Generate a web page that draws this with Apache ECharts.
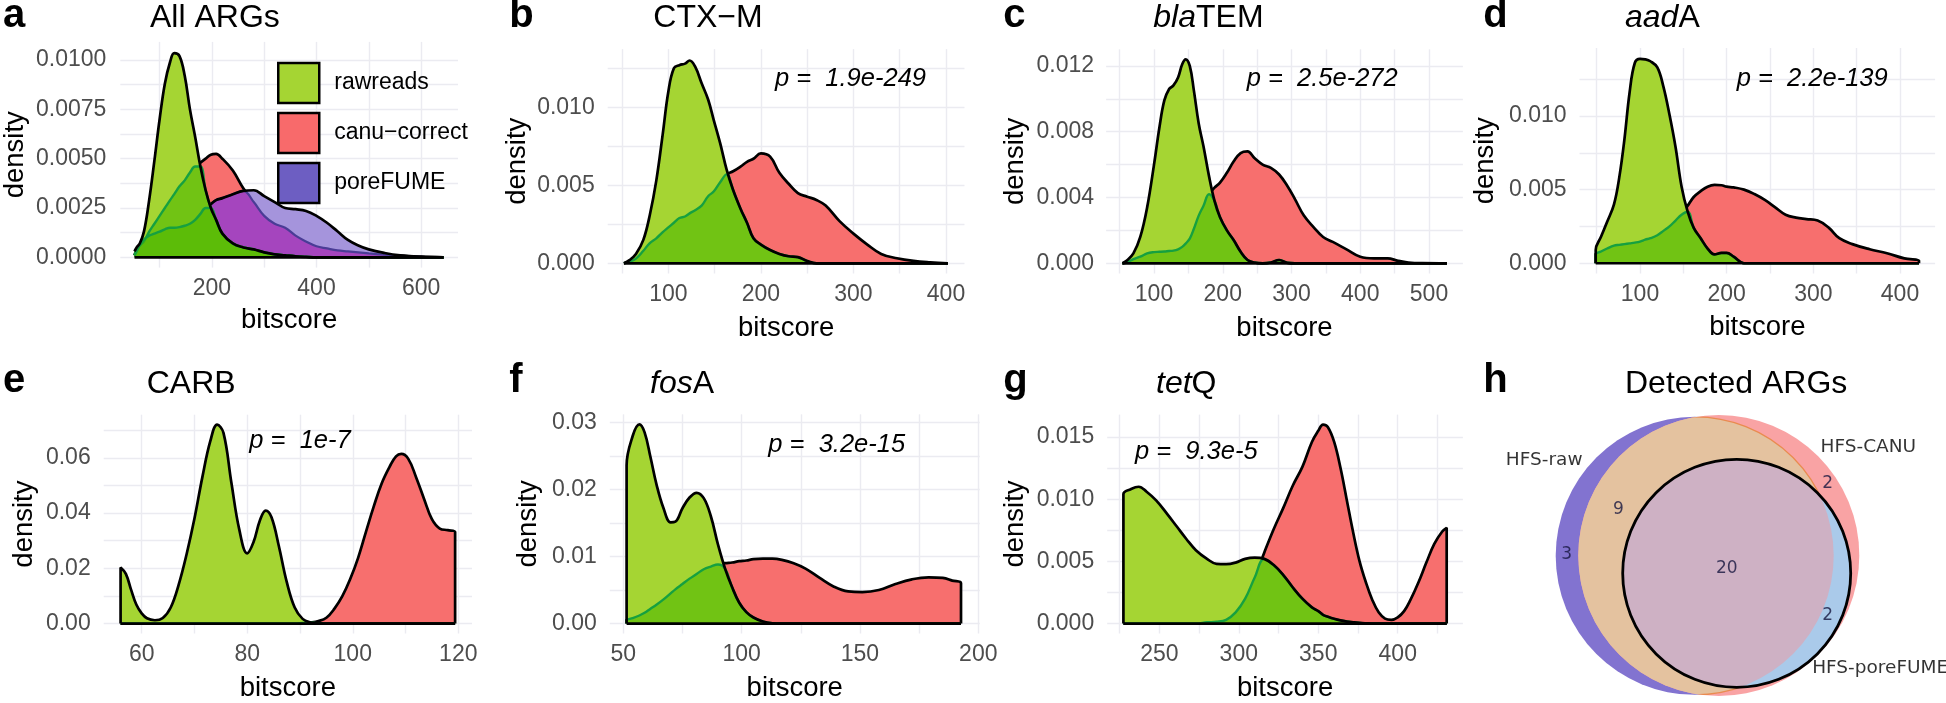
<!DOCTYPE html>
<html><head><meta charset="utf-8">
<script src="https://cdn.jsdelivr.net/npm/echarts@6/dist/echarts.min.js"></script>
<style>html,body{margin:0;padding:0;background:#fff}#c{width:1946px;height:703px}</style>
</head><body><div id="c"></div><script>
// ================= DATA =================
// a: All ARGs
const aX    = [52,56,62,70,80,90,100,110,120,128,138,148,158,168,178,188,198,208,220,240,260,280,300,320,340,360,380,400,420,440,460,480,500,530,560,600,643];
const aRaw  = [0.0003,0.0005,0.0007,0.0013,0.0029,0.0049,0.0070,0.0088,0.0099,0.01035,0.0102,0.0092,0.0075,0.0061,0.0046,0.0034,0.0025,0.0019,0.0012,0.0007,0.0005,0.0004,0.00025,0.00015,0.0001,0.00005,0.00002,0,0,0,0,0,0,0,0,0,0];
const aCanu = [0.0001,0.0004,0.0006,0.0008,0.0013,0.0017,0.0021,0.0025,0.0029,0.0032,0.0036,0.0039,0.0043,0.0046,0.0048,0.0050,0.0052,0.00524,0.0050,0.0044,0.0035,0.0028,0.0021,0.0017,0.0015,0.0011,0.0008,0.00056,0.00045,0.00035,0.0003,0.00025,0.0002,0.00013,0.00007,0.00002,0];
const aPore = [0.0001,0.0003,0.0006,0.0009,0.0011,0.0012,0.0013,0.00142,0.0015,0.0015,0.00153,0.0016,0.0017,0.0019,0.0022,0.0025,0.0027,0.0029,0.0030,0.0032,0.00337,0.0034,0.0031,0.0028,0.0025,0.00244,0.00235,0.0021,0.00175,0.00132,0.00088,0.0006,0.0004,0.00022,0.0001,0.00003,0];
// b: CTX-M
const bX    = [52,58,65,73,80,87,94,100,106,112,118,123,129,136,143,149,156,163,170,178,185,192,200,210,220,230,240,250,260,270,285,300,315,330,347,365,383,402];
const bRaw  = [0,0.0002,0.0006,0.0015,0.0031,0.0053,0.0083,0.0110,0.0125,0.0127,0.0128,0.0130,0.0126,0.01154,0.0105,0.0092,0.0077,0.0060,0.0047,0.0035,0.0026,0.0016,0.0012,0.00085,0.0006,0.00045,0.0004,0.00015,0,0,0,0,0,0,0,0,0,0];
const bCanu = [0,0.0001,0.0003,0.0008,0.0013,0.0016,0.0020,0.0023,0.0026,0.0029,0.0030,0.0032,0.0034,0.0037,0.0043,0.0046,0.0052,0.0057,0.0059,0.0062,0.0065,0.0067,0.00705,0.00684,0.0058,0.0051,0.0045,0.00427,0.00406,0.0037,0.0027,0.0019,0.0012,0.0006,0.00032,0.00015,0.00006,0];
// c: blaTEM
const cX    = [54,60,70,80,90,100,108,115,122,128,135,141,146,152,158,165,172,180,188,196,206,216,226,236,246,258,270,282,294,305,318,332,346,360,380,400,420,440,455,470,490,526];
const cRaw  = [0,0.00015,0.0006,0.0016,0.0034,0.0060,0.0083,0.0099,0.0106,0.0108,0.0113,0.0121,0.0124,0.0120,0.0105,0.0085,0.0071,0.0053,0.0038,0.0028,0.0020,0.0014,0.0007,0.0002,0.00005,0,0.00005,0.0002,0.00003,0,0,0,0,0,0,0,0,0,0,0,0,0];
const cCanu = [0,0.00005,0.00025,0.0004,0.0006,0.00068,0.0007,0.00072,0.00075,0.00077,0.00085,0.0010,0.0012,0.0015,0.0021,0.0029,0.0035,0.0042,0.0046,0.0049,0.0055,0.0062,0.0067,0.0068,0.0064,0.0060,0.0058,0.0054,0.0047,0.0039,0.0029,0.0022,0.0016,0.0013,0.00085,0.0004,0.0003,0.0003,0.00015,0.00005,0.00001,0];
// d: aadA
const dX    = [48.9,48.9,55,62,70,76,82,88,94,100,106,112,120,127,134,141,148,155,162,170,178,186,194,200,208,220,232,244,256,268,280,292,305,318,330,345,365,385,405,421.9,421.9];
const dRaw  = [0,0.0009,0.0018,0.0028,0.0040,0.0058,0.0084,0.0116,0.0136,0.01388,0.01385,0.01372,0.0133,0.0120,0.0101,0.0079,0.0052,0.0035,0.0024,0.0017,0.0010,0.0006,0.0007,0.0007,0.00045,0,0,0,0,0,0,0,0,0,0,0,0,0,0,0,0];
const dCanu = [0,0.0006,0.0008,0.0010,0.0012,0.00125,0.0013,0.00135,0.0014,0.00147,0.0016,0.0017,0.0019,0.0022,0.0025,0.0029,0.0033,0.0039,0.0045,0.0049,0.0052,0.00532,0.0053,0.0052,0.00515,0.0050,0.0047,0.0043,0.0038,0.0033,0.0031,0.0030,0.0029,0.0024,0.0017,0.0013,0.00095,0.00068,0.00033,0.00018,0];
// e: CARB
const eX    = [56,56,57,58,59,60,61,62.5,64,65.5,67,68.5,70,71.5,73,74.3,75.5,77,78.5,80,81.2,82.4,83.5,84.6,86,87.5,89,90.5,92,93.5,95,96.5,98,99.5,101,102.5,104,105.5,107,108.2,109.2,110.5,112,113.5,115,116.5,118,119.4,119.4];
const eRaw  = [0,0.0203,0.018,0.0122,0.0068,0.0037,0.0019,0.0012,0.002,0.0058,0.014,0.025,0.038,0.053,0.066,0.072,0.069,0.051,0.034,0.0254,0.0295,0.0373,0.0409,0.0385,0.028,0.015,0.0058,0.0017,0.0004,0,0,0,0,0,0,0,0,0,0,0,0,0,0,0,0,0,0,0,0];
const eCanu = [0,0,0,0,0,0,0,0,0,0,0,0,0,0,0,0,0,0,0,0,0,0,0,0,0,0,0,0.0002,0.0004,0.0009,0.0021,0.0053,0.0098,0.016,0.0237,0.0332,0.0425,0.0508,0.0568,0.0605,0.0614,0.0597,0.053,0.0452,0.0378,0.0344,0.0338,0.0331,0];
// f: fosA
const fX    = [51.4,51.4,54,56.8,59,61.5,64,67,70,72,75,78,81,84,87,90,93,96,99,102,105,109,113,117,122,127,133,139,145,151,158,165,172,179,185,189,192.7,192.7];
const fRaw  = [0,0.0236,0.028,0.0297,0.0285,0.0248,0.0208,0.0172,0.0151,0.0152,0.0172,0.0188,0.0195,0.0187,0.016,0.0118,0.0082,0.0054,0.0031,0.0017,0.0009,0.0003,0.00005,0,0,0,0,0,0,0,0,0,0,0,0,0,0,0];
const fCanu = [0,0.0005,0.0008,0.0012,0.0016,0.0022,0.0028,0.0036,0.0045,0.0051,0.0059,0.0067,0.0074,0.0081,0.0085,0.0088,0.009,0.0091,0.0093,0.0094,0.0096,0.00967,0.00967,0.0095,0.009,0.0082,0.0068,0.0055,0.0048,0.0047,0.005,0.0059,0.0066,0.0069,0.0068,0.0064,0.006,0];
// g: tetQ
const gX    = [227.4,227.4,232,237,242,248,255,261,267,273,280,286,292,298,304,310,316,322,328,334,340,346,350,353,356,360,364,368,372,376,380,384,388,392,396,400,404,408,413,418,423,428,430.8,430.8];
const gRaw  = [0,0.0104,0.0108,0.011,0.0106,0.0099,0.0088,0.0078,0.0068,0.0059,0.0052,0.0048,0.00477,0.0049,0.0052,0.0053,0.0052,0.0047,0.0039,0.0029,0.002,0.0013,0.001,0.0007,0.00055,0.00038,0.00025,0.00016,0.0001,0.00005,0.00002,0,0,0,0,0,0,0,0,0,0,0,0,0];
const gCanu = [0,0,0,0,0,0,0,0,0,0,0.0001,0.00014,0.0003,0.0009,0.002,0.0037,0.0057,0.0076,0.0093,0.0111,0.0126,0.0146,0.0155,0.016,0.0158,0.0146,0.0125,0.0099,0.0073,0.005,0.0033,0.0019,0.0009,0.0004,0.0003,0.0005,0.001,0.0019,0.0033,0.0049,0.0064,0.0074,0.0077,0];

// tick values (major labelled, minor = extra grid lines)
const aXMaj=[200,400,600], aXMin=[100,300,500], aYMaj=[0,0.0025,0.005,0.0075,0.01], aYMin=[0.00125,0.00375,0.00625,0.00875];
const bXMaj=[100,200,300,400], bXMin=[50,150,250,350], bYMaj=[0,0.005,0.01], bYMin=[0.0025,0.0075,0.0125];
const cXMaj=[100,200,300,400,500], cXMin=[50,150,250,350,450], cYMaj=[0,0.004,0.008,0.012], cYMin=[0.002,0.006,0.01];
const dXMaj=[100,200,300,400], dXMin=[50,150,250,350], dYMaj=[0,0.005,0.01], dYMin=[0.0025,0.0075,0.0125];
const eXMaj=[60,80,100,120], eXMin=[70,90,110], eYMaj=[0,0.02,0.04,0.06], eYMin=[0.01,0.03,0.05,0.07];
const fXMaj=[50,100,150,200], fXMin=[75,125,175], fYMaj=[0,0.01,0.02,0.03], fYMin=[0.005,0.015,0.025];
const gXMaj=[250,300,350,400], gXMin=[225,275,325,375,425], gYMaj=[0,0.005,0.01,0.015], gYMin=[0.0025,0.0075,0.0125];

const legendNames = ['rawreads','canu\u2212correct','poreFUME'];
const pValues = ['p =  1.9e-249','p =  2.5e-272','p =  2.2e-139','p =  1e-7','p =  3.2e-15','p =  9.3e-5'];

// Venn (h): circles and region counts
const vennNames = ['HFS-raw','HFS-CANU','HFS-poreFUME'];
const vennCx = [214.7, 238.8, 256.7];
const vennCy = [155.8, 155.5, 173.3];
const vennR  = [139, 140.5, 114];
const vennNameX = [64.2, 388.3, 400.2];
const vennNameY = [60, 47.5, 268.3];
const vennCounts = ['3','9','20','2','2'];
const vennCountX = [86.7, 138.3, 246.7, 347.7, 347.7];
const vennCountY = [155, 110, 168.3, 84, 216];

// ================= STYLE / LAYOUT =================
const FONT = '"Liberation Sans", Arial, Helvetica, sans-serif';
const GREEN='#A5D533', RED='#F76F6E', PURP='#A594DC', MAGENTA='#A545BE', OVER='rgba(78,184,0,0.6)', TEAL='#16A040', NAVY='#4A3C96', GRIDC='#EBEBF1';
const panels = [
  {xs:aX, raw:aRaw, canu:aCanu, pore:aPore, xMaj:aXMaj, xMin:aXMin, yMaj:aYMaj, yMin:aYMin, xr:[24.8,670.6], yr:[-0.000522,0.01092], yDec:4, box:[116.7,41.9,341.3,225.7], yGap:91.3, xGap:39, yMargin:14},
  {xs:bX, raw:bRaw, canu:bCanu, xMaj:bXMaj, xMin:bXMin, yMaj:bYMaj, yMin:bYMin, xr:[34.5,420], yr:[-0.000654,0.01373], yDec:3, box:[607.7,49.1,356.8,224.4], yGap:76.5, xGap:41, yMargin:13},
  {xs:cX, raw:cRaw, canu:cCanu, xMaj:cXMaj, xMin:cXMin, yMaj:cYMaj, yMin:cYMin, xr:[30.3,549.3], yr:[-0.00062,0.01301], yDec:3, box:[1106.1,49.3,356.8,224.2], yGap:76.5, xGap:41, yMargin:12},
  {xs:dX, raw:dRaw, canu:dCanu, xMaj:dXMaj, xMin:dXMin, yMaj:dYMaj, yMin:dYMin, xr:[30.2,440.5], yr:[-0.000696,0.01462], yDec:3, box:[1579.5,48,355.6,225.5], yGap:80, xGap:40, yMargin:13},
  {xs:eX, raw:eRaw, canu:eCanu, xMaj:eXMaj, xMin:eXMin, yMaj:eYMaj, yMin:eYMin, xr:[52.8,122.6], yr:[-0.0036,0.0756], yDec:2, box:[103.7,414.7,368.3,224.8], yGap:65, xGap:40.5, yMargin:13},
  {xs:fX, raw:fRaw, canu:fCanu, xMaj:fXMaj, xMin:fXMin, yMaj:fYMaj, yMin:fYMin, xr:[44.3,200.6], yr:[-0.00148,0.0312], yDec:2, box:[609.8,414.3,369.9,225.2], yGap:67, xGap:40.5, yMargin:13},
  {xs:gX, raw:gRaw, canu:gCanu, xMaj:gXMaj, xMin:gXMin, yMaj:gYMaj, yMin:gYMin, xr:[217.2,441], yr:[-0.0008,0.0168], yDec:3, box:[1107.2,414.6,355.7,224.9], yGap:77.7, xGap:40.5, yMargin:13}
];

const pairs = (xs, ys) => xs.map((x, i) => [x, ys[i]]);
const minArr = (a, b) => a.map((v, i) => Math.min(v, b[i]));
function L(i, data, o) {
  return Object.assign({type:'line', xAxisIndex:i, yAxisIndex:i, data, symbol:'none', smooth:0.4,
    silent:true, animation:false, clip:true}, o);
}
const BLK = {color:'#000', width:2.7};
const NOLINE = {width:0, opacity:0};

const grids=[], xAxes=[], yAxes=[], series=[];
panels.forEach((p, i) => {
  grids.push({left:p.box[0], top:p.box[1], width:p.box[2], height:p.box[3]});
  xAxes.push({type:'value', gridIndex:i, min:p.xr[0], max:p.xr[1], name:'bitscore', nameLocation:'middle', nameGap:p.xGap,
    nameTextStyle:{fontSize:27.5, color:'#000', fontFamily:FONT},
    axisLine:{show:false}, axisTick:{show:false, customValues:p.xMaj.concat(p.xMin)},
    axisLabel:{customValues:p.xMaj, fontSize:23, color:'#4D4D4D', margin:10, fontFamily:FONT, formatter:v=>String(v)},
    splitLine:{show:true, lineStyle:{color:GRIDC, width:1.4}}});
  yAxes.push({type:'value', gridIndex:i, min:p.yr[0], max:p.yr[1], name:'density', nameLocation:'middle', nameGap:p.yGap, nameRotate:90,
    nameTextStyle:{fontSize:27.5, color:'#000', fontFamily:FONT},
    axisLine:{show:false}, axisTick:{show:false, customValues:p.yMaj.concat(p.yMin)},
    axisLabel:{customValues:p.yMaj, fontSize:23, color:'#4D4D4D', margin:p.yMargin, fontFamily:FONT, formatter:v=>v.toFixed(p.yDec)},
    splitLine:{show:true, lineStyle:{color:GRIDC, width:1.4}}});
  let z = 3;
  series.push(L(i, pairs(p.xs, p.canu), {name:legendNames[1], z:z++, lineStyle:BLK, areaStyle:{color:RED, opacity:1}, itemStyle:{color:RED}}));
  if (p.pore) {
    series.push(L(i, pairs(p.xs, p.pore), {name:legendNames[2], z:z++, lineStyle:NOLINE, areaStyle:{color:PURP, opacity:1}, itemStyle:{color:PURP}}));
    series.push(L(i, pairs(p.xs, minArr(p.pore, p.canu)), {z:z++, lineStyle:{color:NAVY, width:2.2}, areaStyle:{color:MAGENTA, opacity:1}}));
    series.push(L(i, pairs(p.xs, p.pore), {z:z++, lineStyle:BLK}));
  }
  series.push(L(i, pairs(p.xs, p.raw), {name:legendNames[0], z:z++, lineStyle:NOLINE, areaStyle:{color:GREEN, opacity:1}, itemStyle:{color:GREEN}}));
  series.push(L(i, pairs(p.xs, minArr(p.raw, p.canu)), {z:z++, lineStyle:{color:TEAL, width:2.4}, areaStyle:{color:OVER, opacity:1}}));
  if (p.pore) series.push(L(i, pairs(p.xs, minArr(p.raw, p.pore)), {z:z++, lineStyle:{color:TEAL, width:2.4}, areaStyle:{color:OVER, opacity:1}}));
  series.push(L(i, pairs(p.xs, p.raw), {z:z++, lineStyle:BLK}));
  series.push(L(i, [[p.xs[0], 0], [p.xs[p.xs.length - 1], 0]], {z:z++, smooth:false, lineStyle:BLK}));
});

// Venn grid (index 7)
const VI = panels.length;
grids.push({left:1480, top:400, width:466, height:303});
xAxes.push({type:'value', gridIndex:VI, min:0, max:466, show:false, splitLine:{show:false}});
yAxes.push({type:'value', gridIndex:VI, min:0, max:303, inverse:true, show:false, splitLine:{show:false}});
series.push({
  type:'custom', coordinateSystem:'cartesian2d', xAxisIndex:VI, yAxisIndex:VI, z:30, silent:true, animation:false, clip:false,
  data: vennCx.map((x, k) => [x, vennCy[k], vennR[k]]),
  renderItem: function (params, api) {
    const circ = j => { const c = api.coord([vennCx[j], vennCy[j]]); return {cx:c[0], cy:c[1], r:api.size([vennR[j], 0])[0]}; };
    const k = params.dataIndex, me = circ(k);
    if (k === 0) return {type:'circle', shape:me, style:{fill:'#8273D0'}};
    if (k === 1) return {type:'group', children:[
      {type:'circle', shape:me, style:{fill:'#F9A3A4'}},
      {type:'circle', shape:me, style:{fill:'#E4C29F'}, clipPath:{type:'circle', shape:circ(0)}},
      {type:'circle', shape:circ(0), style:{fill:null, stroke:'#E98B50', lineWidth:1.3}, clipPath:{type:'circle', shape:me}}
    ]};
    return {type:'group', children:[
      {type:'circle', shape:me, style:{fill:'#AACAEA'}},
      {type:'circle', shape:me, style:{fill:'#CEB1C4'}, clipPath:{type:'circle', shape:circ(0)}},
      {type:'circle', shape:me, style:{fill:null, stroke:'#000', lineWidth:2.8}}
    ]};
  }
});
series.push({type:'scatter', xAxisIndex:VI, yAxisIndex:VI, symbolSize:0, silent:true, animation:false, z:31, clip:false,
  data: vennNames.map((n, k) => ({value:[vennNameX[k], vennNameY[k]], name:n})),
  label:{show:true, position:'inside', formatter:'{b}', fontFamily:'"DejaVu Sans", sans-serif', fontSize:18.5, color:'#000'}});
series.push({type:'scatter', xAxisIndex:VI, yAxisIndex:VI, symbolSize:0, silent:true, animation:false, z:31, clip:false,
  data: vennCounts.map((n, k) => ({value:[vennCountX[k], vennCountY[k]], name:n})),
  label:{show:true, position:'inside', formatter:'{b}', fontFamily:'"DejaVu Sans", sans-serif', fontSize:17, color:'#15153F'}});

// Text: panel letters, titles, p-values
const gtxt = [];
const letter = (t, x, y) => gtxt.push({type:'text', x, y, silent:true, z:50, style:{text:t, font:'bold 40px ' + FONT, fill:'#000', align:'left', verticalAlign:'middle'}});
[['a',3,16],['b',509.3,16],['c',1003.3,16],['d',1483.3,16],['e',3,381],['f',509.3,381],['g',1003.3,381],['h',1483.3,381]].forEach(a => letter(...a));
const RICH = {i:{fontStyle:'italic', fontSize:32, fontFamily:FONT, fill:'#000'}, n:{fontSize:32, fontFamily:FONT, fill:'#000'}};
const title = (t, x, y) => gtxt.push({type:'text', x, y, silent:true, z:50, style:{text:t, rich:RICH, font:'32px ' + FONT, fill:'#000', align:'left', verticalAlign:'middle'}});
[['{n|All ARGs}',150,18.5],['{n|CTX\u2212M}',653.3,18.5],['{i|bla}{n|TEM}',1153.3,18.5],['{i|aad}{n|A}',1625,18.5],
 ['{n|CARB}',146.7,384],['{i|fos}{n|A}',650,384],['{i|tet}{n|Q}',1156,384],['{n|Detected ARGs}',1625,384]].forEach(a => title(...a));
const pPos = [[775,78.7],[1246.7,78.7],[1736.7,79],[249.3,440.8],[768.3,445],[1135,451.7]];
pValues.forEach((t, k) => gtxt.push({type:'text', x:pPos[k][0], y:pPos[k][1], silent:true, z:50,
  style:{text:t, font:'italic 25.5px ' + FONT, fill:'#000', align:'left', verticalAlign:'middle'}}));

const chart = echarts.init(document.getElementById('c'), null, {renderer:'canvas'});
chart.setOption({
  animation:false, backgroundColor:'#fff', textStyle:{fontFamily:FONT},
  grid:grids, xAxis:xAxes, yAxis:yAxes, series,
  legend:{show:true, selectedMode:false, orient:'vertical', left:277, top:61.7, padding:0, icon:'rect', itemWidth:41, itemHeight:40, itemGap:7.5,
    textStyle:{fontSize:23, color:'#000', fontFamily:FONT, padding:[0,0,0,10]},
    data:[
      {name:legendNames[0], itemStyle:{color:GREEN, borderColor:'#000', borderWidth:2.5}},
      {name:legendNames[1], itemStyle:{color:'#F86A6B', borderColor:'#000', borderWidth:2.5}},
      {name:legendNames[2], itemStyle:{color:'#6D5EC2', borderColor:'#000', borderWidth:2.5}}
    ]},
  graphic: gtxt
});
</script></body></html>
